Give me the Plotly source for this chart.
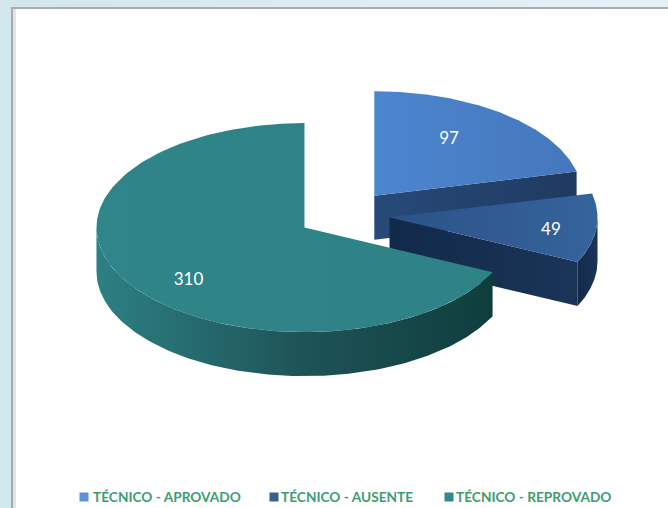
import numpy as np
import plotly.graph_objects as go

# Data
categories = ["TÉCNICO - APROVADO", "TÉCNICO - AUSENTE", "TÉCNICO - REPROVADO"]
values = [97, 49, 310]

# Style / geometry of the drawn 3D pie
pulls = [0.235, 0.22, 0.225]
top_colors = [["#4c86d0", "#4577bb"], ["#2b5287", "#35639c"], ["#2f8589", "#2f8286"]]
wall_colors = [["#274a78", "#1f3a60"], ["#12294a", "#1a3558"],
               ["#2c8084", "#1f5558", "#0f3d3d"]]
legend_colors = ["#5a92d6", "#365f94", "#32888c"]
legend_x = [84, 274, 449]
legend_text_x = [93, 281, 456]
label_rx = [0.58, 0.78, 0.66]
label_ry = [0.686, 1.276, 0.945]
CX, CY, RX, RY, DEPTH = 344, 215, 208, 104.5, 44
TEXT_GREEN = "#3d9c72"
FONT = "Lato"

total = sum(values)
fracs = np.array(values) / total
ends = np.cumsum(fracs) * 2 * np.pi
starts = ends - fracs * 2 * np.pi


def gradient(colors):
    n = len(colors) - 1
    return dict(type="horizontal", colorscale=[[i / n, c] for i, c in enumerate(colors)])


def poly(xs, ys, colors):
    return go.Scatter(x=xs, y=ys, mode="lines", fill="toself", line=dict(width=0),
                      fillgradient=gradient(colors), hoverinfo="skip", showlegend=False)


fig = go.Figure()

# Background and white panel
fig.add_trace(poly([0, 668, 668, 0, 0], [0, 0, 508, 508, 0], ["#d2e6ee", "#e6f2f8"]))

panel = [(11, 7, "#a9abad"), (13, 9, "#e4e4e8"), (16, 9, "#ffffff")]
for x0, y0, c in panel:
    fig.add_trace(poly([x0, 668, 668, x0, x0], [y0, y0, 508, 508, y0], [c, c]))

label_xs, label_ys = [], []
for i, v in enumerate(values):
    a0, a1 = starts[i], ends[i]
    mid = (a0 + a1) / 2
    ax = CX + pulls[i] * RX * np.sin(mid)
    ay = CY - pulls[i] * RY * np.cos(mid)
    th = np.linspace(a0, a1, 160)
    arc_x = ax + RX * np.sin(th)
    arc_y = ay - RY * np.cos(th)

    # Visible walls: radial face on the end edge when it faces the viewer,
    # and the outer rim between 90 and 270 degrees.
    if a1 < np.pi * 1.5:
        ex, ey = ax + RX * np.sin(a1), ay - RY * np.cos(a1)
        fig.add_trace(poly([ax, ex, ex, ax, ax], [ay, ey, ey + DEPTH, ay + DEPTH, ay], wall_colors[i]))
    lo, hi = max(a0, np.pi / 2), min(a1, np.pi * 1.5)
    if hi > lo:
        rim = np.linspace(lo, hi, 160)
        rx_ = ax + RX * np.sin(rim)
        ry_ = ay - RY * np.cos(rim)
        xs = np.concatenate([rx_, rx_[::-1], rx_[:1]])
        ys = np.concatenate([ry_, ry_[::-1] + DEPTH, ry_[:1]])
        fig.add_trace(poly(xs, ys, wall_colors[i]))

    # Top face
    xs = np.concatenate([[ax], arc_x, [ax]])
    ys = np.concatenate([[ay], arc_y, [ay]])
    fig.add_trace(poly(xs, ys, top_colors[i]))

    label_xs.append(ax + label_rx[i] * RX * np.sin(mid))
    label_ys.append(ay - label_ry[i] * RY * np.cos(mid))

# Value labels
fig.add_trace(go.Scatter(x=label_xs, y=label_ys, mode="text", text=[str(v) for v in values],
                         textfont=dict(family=FONT, size=17, color="#ffffff"),
                         hoverinfo="skip", showlegend=False))

# Legend row
fig.add_trace(go.Scatter(x=legend_x, y=[497] * 3, mode="markers",
                         marker=dict(symbol="square", size=9, color=legend_colors, line_width=0),
                         hoverinfo="skip", showlegend=False))
fig.add_trace(go.Scatter(x=legend_text_x, y=[499] * 3, mode="text", text=categories,
                         textposition="middle right",
                         textfont=dict(family=FONT, size=13.7, color=TEXT_GREEN, weight=700),
                         hoverinfo="skip", showlegend=False, cliponaxis=False))

fig.update_layout(
    width=668, height=508, margin=dict(l=0, r=0, t=0, b=0),
    paper_bgcolor="#ffffff", plot_bgcolor="#ffffff", showlegend=False,
    xaxis=dict(range=[0, 668], visible=False, fixedrange=True),
    yaxis=dict(range=[508, 0], visible=False, fixedrange=True),
)
fig.write_html("out.html", config={"displayModeBar": False},
               post_script="document.body.style.margin='0';document.body.style.overflow='hidden';")
